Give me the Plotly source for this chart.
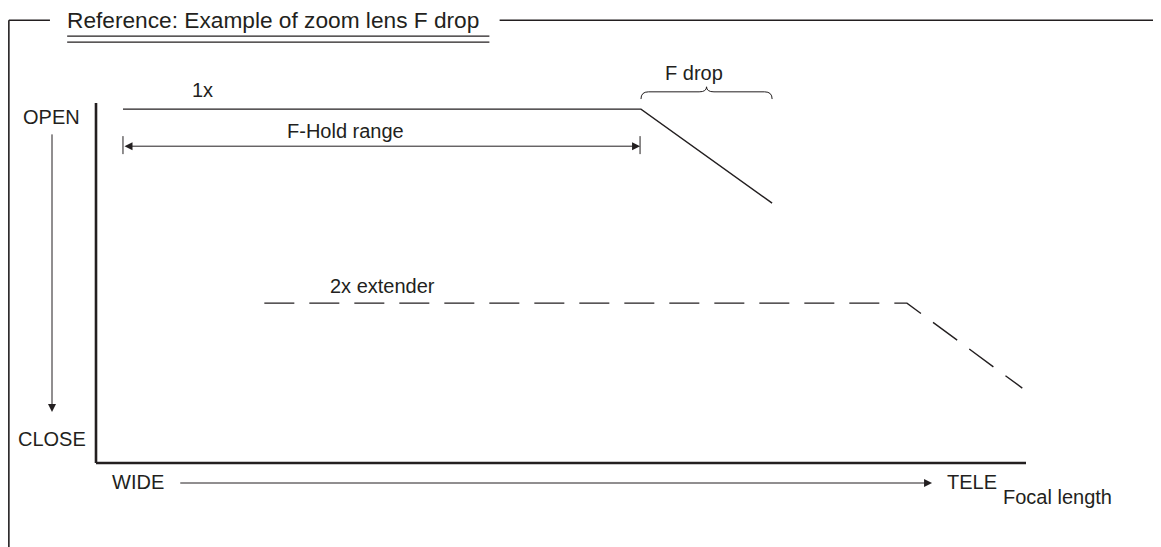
import plotly.graph_objects as go

# focal length (0 = WIDE, 100 = TELE) and aperture (0 = CLOSE, 100 = OPEN)
lens_1x_focal = [2.9, 58.6, 72.7]
lens_1x_aperture = [98.3, 98.3, 72.2]
lens_2x_focal = [18.1, 87.2, 99.6]
lens_2x_aperture = [44.4, 44.4, 20.8]

hold_range = [2.9, 58.5]      # F-Hold range along focal axis
drop_range = [58.6, 72.7]     # F drop range along focal axis

ink = '#231f20'
font = dict(family='Liberation Sans, Arial, sans-serif', size=20, color=ink)

fig = go.Figure()

fig.add_trace(go.Scatter(x=lens_1x_focal, y=lens_1x_aperture, mode='lines',
                         line=dict(color=ink, width=1.4), name='1x'))
fig.add_trace(go.Scatter(x=lens_2x_focal, y=lens_2x_aperture, mode='lines',
                         line=dict(color=ink, width=1.4, dash='30px,15px'), name='2x extender'))

# axes (L shape)
fig.add_shape(type='line', x0=0, x1=0, y0=0, y1=100, line=dict(color=ink, width=2.6))
fig.add_shape(type='line', x0=0, x1=100, y0=0, y1=0, line=dict(color=ink, width=2.6))

# outer frame (left edge sits on the figure's left border)
fig.add_shape(type='line', x0=-9.37, x1=-9.37, y0=123.0, y1=-26.0, line=dict(color=ink, width=1.6))
fig.add_shape(type='line', x0=-9.37, x1=-4.95, y0=123.0, y1=123.0, line=dict(color=ink, width=1.6))
fig.add_shape(type='line', x0=43.4, x1=116.0, y0=123.0, y1=123.0, line=dict(color=ink, width=1.6))
# title double underline
fig.add_shape(type='line', x0=-3.1, x1=42.3, y0=118.6, y1=118.6, line=dict(color=ink, width=1.3))
fig.add_shape(type='line', x0=-3.1, x1=42.3, y0=116.9, y1=116.9, line=dict(color=ink, width=1.3))

# F-Hold range end ticks
for xv in hold_range:
    fig.add_shape(type='line', x0=xv, x1=xv, y0=85.8, y1=90.8, line=dict(color=ink, width=1))

# F drop brace
x0, x1 = drop_range
xm = (x0 + x1) / 2
r = 0.8
ye, yh, yp = 101.1, 103.1, 104.5
brace = (f'M {x0},{ye} Q {x0},{yh} {x0 + r},{yh} L {xm - r},{yh} Q {xm},{yh} {xm},{yp} '
         f'Q {xm},{yh} {xm + r},{yh} L {x1 - r},{yh} Q {x1},{yh} {x1},{ye}')
fig.add_shape(type='path', path=brace, line=dict(color=ink, width=1))

arrow = dict(showarrow=True, arrowhead=2, arrowsize=1.6, arrowwidth=1, arrowcolor=ink,
             axref='x', ayref='y', text='', standoff=0, startstandoff=0)
# OPEN -> CLOSE
fig.add_annotation(x=-4.73, y=14.2, ax=-4.73, ay=91.7, **arrow)
# WIDE -> TELE
fig.add_annotation(x=89.9, y=-5.56, ax=8.9, ay=-5.56, **arrow)
# F-Hold range double arrow
fig.add_annotation(x=hold_range[1], y=88.0, ax=hold_range[0], ay=88.0,
                   arrowside='end+start', **arrow)

labels = [
    ('1x', 11.4, 103.6),
    ('F-Hold range', 26.8, 92.2),
    ('F drop', 64.3, 108.2),
    ('2x extender', 30.8, 49.2),
    ('OPEN', -4.8, 96.2),
    ('CLOSE', -4.7, 6.8),
    ('WIDE', 4.5, -5.2),
    ('TELE', 94.2, -5.2),
    ('Focal length', 103.4, -9.4),
]
for txt, xv, yv in labels:
    fig.add_annotation(x=xv, y=yv, text=txt, showarrow=False, xanchor='center', yanchor='middle',
                       font=font)

fig.add_annotation(x=-3.3, y=123.0, text='Reference: Example of zoom lens F drop', showarrow=False,
                   xanchor='left', yanchor='middle', font=dict(font, size=22.7))

# ranges offset by the page's 8px body margin so the drawing lands where the reference has it
fig.update_layout(
    width=1161, height=547,
    margin=dict(l=0, r=0, t=0, b=0),
    paper_bgcolor='white', plot_bgcolor='white',
    showlegend=False,
    xaxis=dict(range=[-9.462, 115.376], visible=False, fixedrange=True),
    yaxis=dict(range=[-25.556, 126.389], visible=False, fixedrange=True),
)

fig.write_html('out.html')
